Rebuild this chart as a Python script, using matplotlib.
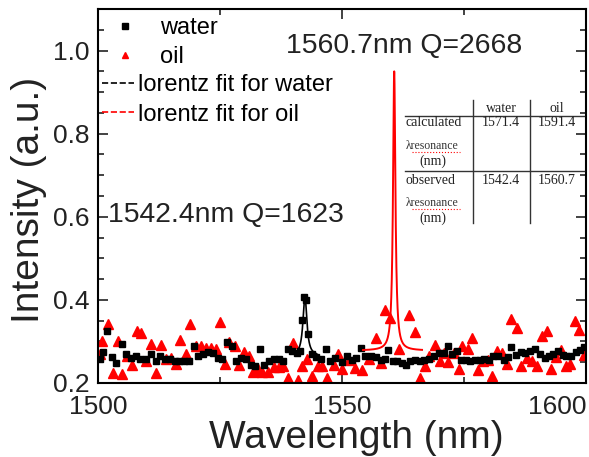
import numpy as np
import matplotlib
matplotlib.use('Agg')
import matplotlib.pyplot as plt
from matplotlib.lines import Line2D

plt.rcParams['font.family'] = ['Liberation Sans', 'DejaVu Sans']

# ── measured spectra ──────────────────────────────────────────────────
water_wl = [1500.4, 1501.0, 1501.9, 1502.8, 1503.7, 1505.0, 1505.8, 1506.7, 1507.7, 1508.6,
            1509.8, 1510.8, 1511.8, 1512.7, 1513.7, 1514.7, 1515.7, 1516.6, 1517.6, 1518.6,
            1519.7, 1520.5, 1521.6, 1522.6, 1523.6, 1524.6, 1525.4, 1526.4, 1527.5, 1528.3,
            1529.3, 1530.3, 1531.4, 1532.2, 1533.1, 1534.1, 1535.1, 1536.0, 1537.0, 1537.9,
            1538.9, 1539.8, 1540.8, 1541.4, 1541.8, 1542.2, 1542.6, 1543.0, 1543.9, 1544.6,
            1545.6, 1546.7, 1547.6, 1548.6, 1549.9, 1551.1, 1552.0, 1552.9, 1553.8, 1554.7,
            1555.9, 1556.9, 1557.9, 1558.9, 1559.5, 1560.4, 1561.3, 1562.3, 1563.1, 1564.0,
            1564.9, 1566.0, 1566.9, 1567.9, 1568.8, 1569.8, 1570.8, 1571.7, 1572.6, 1573.5,
            1574.4, 1575.4, 1576.3, 1577.3, 1578.3, 1579.2, 1580.1, 1581.0, 1582.0, 1583.1,
            1584.1, 1584.6, 1585.6, 1586.7, 1587.5, 1588.5, 1589.5, 1590.6, 1591.5, 1592.4,
            1593.3, 1594.3, 1595.2, 1596.0, 1596.9, 1597.9, 1598.7, 1599.6]
water_int = [0.258, 0.274, 0.326, 0.262, 0.248, 0.294, 0.270, 0.260, 0.266, 0.258,
             0.258, 0.270, 0.252, 0.266, 0.258, 0.258, 0.254, 0.254, 0.252, 0.252,
             0.288, 0.266, 0.270, 0.275, 0.271, 0.260, 0.258, 0.298, 0.290, 0.252,
             0.260, 0.258, 0.243, 0.242, 0.283, 0.243, 0.254, 0.258, 0.258, 0.254,
             0.282, 0.278, 0.272, 0.278, 0.352, 0.408, 0.400, 0.318, 0.270, 0.262,
             0.258, 0.282, 0.254, 0.260, 0.250, 0.264, 0.256, 0.260, 0.284, 0.264,
             0.264, 0.262, 0.256, 0.258, 0.280, 0.252, 0.252, 0.248, 0.244, 0.254,
             0.256, 0.252, 0.256, 0.258, 0.264, 0.272, 0.272, 0.288, 0.270, 0.276,
             0.256, 0.256, 0.252, 0.256, 0.256, 0.258, 0.256, 0.264, 0.266, 0.256,
             0.262, 0.286, 0.268, 0.274, 0.272, 0.276, 0.282, 0.270, 0.260, 0.264,
             0.270, 0.276, 0.268, 0.264, 0.264, 0.274, 0.280, 0.286]

oil_wl = [1500.4, 1500.9, 1502.1, 1503.0, 1504.0, 1505.0, 1506.0, 1507.0, 1507.9, 1508.9,
          1509.9, 1510.9, 1511.9, 1512.9, 1513.9, 1515.0, 1515.9, 1516.9, 1518.0, 1518.8,
          1520.1, 1521.2, 1522.2, 1523.2, 1524.1, 1524.9, 1526.0, 1526.8, 1528.0, 1528.8,
          1530.0, 1531.0, 1531.7, 1532.7, 1533.7, 1534.8, 1536.1, 1537.1, 1538.0, 1538.9,
          1540.0, 1540.9, 1541.9, 1542.9, 1543.9, 1545.0, 1546.0, 1547.0, 1548.4, 1549.1,
          1550.1, 1551.4, 1552.6, 1554.0, 1555.5, 1556.9, 1557.9, 1558.8, 1559.8, 1561.6,
          1563.8, 1564.9, 1566.0, 1567.1, 1567.9, 1569.0, 1570.1, 1571.0, 1571.8, 1573.0,
          1573.9, 1574.5, 1575.8, 1576.7, 1577.8, 1578.8, 1579.9, 1580.7, 1581.7, 1582.7,
          1583.8, 1584.6, 1585.8, 1586.7, 1587.9, 1588.9, 1589.9, 1591.0, 1592.0, 1592.9,
          1593.9, 1594.9, 1595.9, 1596.8, 1597.8, 1598.6, 1599.5]
oil_int = [0.270, 0.300, 0.342, 0.224, 0.300, 0.222, 0.264, 0.243, 0.324, 0.320,
           0.252, 0.294, 0.224, 0.291, 0.258, 0.260, 0.246, 0.303, 0.270, 0.342,
           0.288, 0.288, 0.284, 0.284, 0.282, 0.346, 0.246, 0.298, 0.290, 0.243,
           0.275, 0.266, 0.227, 0.234, 0.226, 0.226, 0.238, 0.238, 0.240, 0.212,
           0.296, 0.208, 0.242, 0.258, 0.216, 0.242, 0.240, 0.211, 0.243, 0.270,
           0.234, 0.256, 0.236, 0.232, 0.258, 0.308, 0.248, 0.376, 0.356, 0.282,
           0.364, 0.322, 0.212, 0.242, 0.264, 0.292, 0.252, 0.272, 0.250, 0.272,
           0.234, 0.290, 0.282, 0.308, 0.232, 0.252, 0.256, 0.216, 0.276, 0.272,
           0.246, 0.354, 0.332, 0.242, 0.260, 0.252, 0.240, 0.314, 0.326, 0.234,
           0.262, 0.280, 0.242, 0.246, 0.350, 0.328, 0.268]

# lorentz fit parameters: centre (nm), Q, baseline, peak value, plotted span
water_fit = dict(center=1542.4, q=1623, base=0.265, peak=0.41, span=(1540.2, 1544.8))
oil_fit   = dict(center=1560.7, q=2668, base=0.278, peak=0.95, span=(1554.3, 1566.4))

# resonance table
tbl_cols = ['water', 'oil']
tbl_calc = ['1571.4', '1591.4']
tbl_obs  = ['1542.4', '1560.7']


def lorentz(fit):
    x = np.linspace(fit['span'][0], fit['span'][1], 600)
    hw = fit['center'] / fit['q'] / 2.0
    y = fit['base'] + (fit['peak'] - fit['base']) * hw**2 / ((x - fit['center'])**2 + hw**2)
    return x, y


fig = plt.figure(figsize=(5.89, 4.57), dpi=100)
ax = fig.add_axes([98/589, 74/457, 488/589, 374/457])

ax.plot(oil_wl, oil_int, ls='none', marker='^', ms=6.8, color='red', mec='red', zorder=2)
ax.plot(water_wl, water_int, ls='none', marker='s', ms=4.8, color='black', zorder=3)

xw, yw = lorentz(water_fit)
ax.plot(xw, yw, color='black', lw=1.2, zorder=4)
xo, yo = lorentz(oil_fit)
ax.plot(xo, yo, color='red', lw=1.4, zorder=4)

ax.set_xlim(1500, 1600)
ax.set_ylim(0.2, 1.1)
ax.set_xticks([1500, 1550, 1600])
ax.set_xticks([1525, 1575], minor=True)
ax.set_yticks([0.2, 0.4, 0.6, 0.8, 1.0])
ax.set_yticks(np.arange(0.2, 1.1, 0.05), minor=True)
ax.set_yticklabels(['0.2', '0.4', '0.6', '0.8', '1.0'])

ax.tick_params(which='both', direction='in', top=True, right=True, width=1.2,
               labelsize=19, colors='#222222')
ax.tick_params(which='major', length=7)
ax.tick_params(axis='x', which='major', pad=9)
ax.tick_params(axis='y', which='major', pad=6)
ax.tick_params(which='minor', length=4.5)
for s in ax.spines.values():
    s.set_linewidth(1.5)

# last x label is kept inside the frame
xl = ax.get_xticklabels()
xl[-1].set_horizontalalignment('right')
xl[-1].set_x(1600)

ax.set_xlabel('Wavelength (nm)', fontsize=28, color='#222222')
ax.set_ylabel('Intensity (a.u.)', fontsize=28, color='#222222')
ax.xaxis.set_label_coords(0.53, -0.1)
ax.yaxis.set_label_coords(-0.105, 0.49)

ax.text(1538.6, 1.012, '1560.7nm Q=2668', fontsize=20.4, va='center', color='#222222')
ax.text(1502.0, 0.604, '1542.4nm Q=1623', fontsize=20.4, va='center', color='#222222')

# legends: markers, then fit lines
h1 = [Line2D([], [], ls='none', marker='s', ms=4, color='black'),
      Line2D([], [], ls='none', marker='^', ms=5, color='red')]
leg1 = ax.legend(h1, ['water', 'oil'], loc='upper left', bbox_to_anchor=(0.008, 0.979),
                 frameon=False, fontsize=17, handlelength=1.95, handletextpad=0.5,
                 borderpad=0, borderaxespad=0, labelspacing=0.32)
ax.add_artist(leg1)
h2 = [Line2D([], [], ls='--', lw=1.2, color='black'),
      Line2D([], [], ls='--', lw=1.2, color='red')]
ax.legend(h2, ['lorentz fit for water', 'lorentz fit for oil'], loc='upper left',
          bbox_to_anchor=(0.008, 0.826), frameon=False, fontsize=17, handlelength=1.35,
          handletextpad=0.18, borderpad=0, borderaxespad=0, labelspacing=0.32)

# resonance table, figure pixel coordinates
W, H = 589.0, 457.0
def fx(px): return px / W
def fy(py): return 1 - py / H

serif = ['Liberation Serif', 'DejaVu Serif']
tk = dict(fontsize=10, family=serif, va='center', color='#222222')
for xpix in (473, 530):
    fig.add_artist(Line2D([fx(xpix), fx(xpix)], [fy(100), fy(223)], color='#333333', lw=1.0))
for ypix in (116, 171):
    fig.add_artist(Line2D([fx(405), fx(584)], [fy(ypix), fy(ypix)], color='#333333', lw=1.0))

col_x = [501, 557]
for cx, name in zip(col_x, tbl_cols):
    fig.text(fx(cx), fy(108), name, ha='center', **tk)
for cx, v in zip(col_x, tbl_calc):
    fig.text(fx(cx), fy(123), v, ha='center', **tk)
for cx, v in zip(col_x, tbl_obs):
    fig.text(fx(cx), fy(180), v, ha='center', **tk)

for y0, lab in ((123, 'calculated'), (180, 'observed')):
    fig.text(fx(406), fy(y0), lab, ha='left', **tk)
    fig.text(fx(406), fy(y0 + 23), 'λresonance', ha='left', fontsize=8.5, family=serif,
             va='center', color='#333333')
    fig.add_artist(Line2D([fx(412), fx(460)], [fy(y0 + 29), fy(y0 + 29)], color='red',
                          lw=0.8, ls=':'))
    fig.text(fx(433), fy(y0 + 38), '(nm)', ha='center', **tk)

fig.savefig('out.png', dpi=100)
